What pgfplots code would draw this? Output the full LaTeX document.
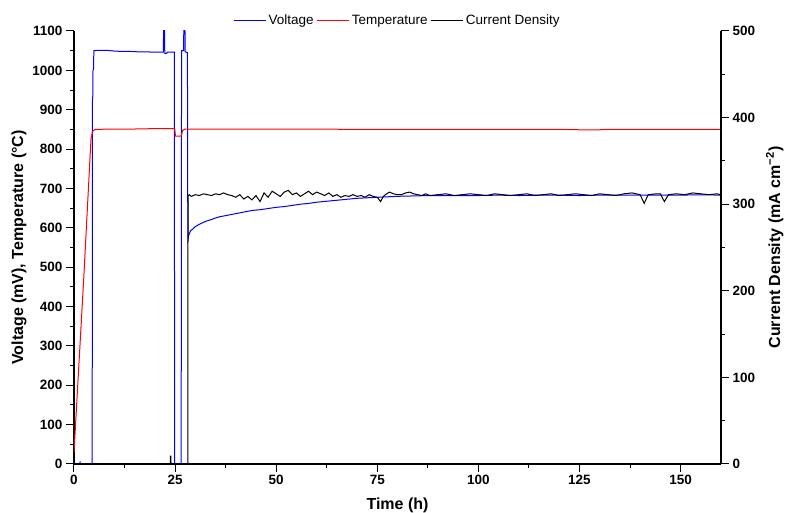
\documentclass[border=0pt]{standalone}
\usepackage{pgfplots}
\pgfplotsset{compat=1.18}
\usepackage{fontspec}
\setmainfont{Liberation Sans}
\begin{document}
\begin{tikzpicture}
\useasboundingbox (-74pt,-49pt) rectangle (711pt,464pt);
\pgfplotsset{
  every axis/.append style={
    scale only axis, width=647pt, height=433pt,
    xmin=0, xmax=160,
    tick align=outside,
    major tick length=8pt, minor tick length=4pt,
    every tick/.style={black, line width=1pt},
    axis line style={line width=1.2pt},
    tick label style={font=\fontsize{13.5}{15}\selectfont\bfseries},
    /pgf/number format/assume math mode=true,
    /pgf/number format/1000 sep={},
    label style={font=\fontsize{16}{18}\selectfont\bfseries},
  }
}
\begin{axis}[
  axis x line*=bottom, axis y line*=left,
  ymin=0, ymax=1100, ytick={0,100,...,1100}, minor y tick num=1,
  xtick={0,25,...,150}, minor x tick num=1,
  xlabel={Time (h)}, ylabel={Voltage (mV), Temperature (°C)},
  x label style={at={(axis description cs:0.5,-0.095)}, anchor=center},
  y label style={at={(axis description cs:-0.085,0.5)}, anchor=center},
  legend style={at={(0.5,1)}, anchor=south, yshift=1pt, draw=none, fill=none,
    legend columns=3, font=\fontsize{13.5}{15}\selectfont,
    /tikz/every even column/.append style={column sep=1pt}},
  legend image post style={xscale=1.9, line width=0.8pt},
]
\addplot[blue, line width=1pt] coordinates {
(0,0)(1.4,0)(1.5,4)(1.6,0)(4.5,0)(4.55,920)(4.65,935)(4.7,1000)(4.85,1005)(4.9,1050)
(6,1051)(8,1051)(10,1049)(12,1048)(14,1048)(16,1047)(18,1047)(20,1046)(22.1,1046)
(22.2,1150)(22.35,1150)(22.45,1043)(22.9,1043)(23.1,1046)(24.8,1046)(24.9,0)(26.5,0)
(26.6,1050)(27.1,1050)(27.2,1150)(27.4,1150)(27.5,1047)(28.05,1045)(28.15,570)
(28.4,582)(28.8,592)(29.5,598)(30,603)(31,609)(32,614)(33,618)(34,621)(35,625)(36,628)
(37,630)(38,632)(39,634)(40,636)(42,640)(44,644)(46,646)(48,649)(50,652)(52,654)
(54,657)(56,660)(58,662)(60,665)(62,667)(64,669)(66,671)(68,673)(70,675)(72,676)
(74,677)(76,678)(78,679)(80,680)(84,681)(88,682)(92,682)(96,682)(100,682)(105,683)
(110,682)(115,683)(120,683)(125,682)(130,683)(135,683)(140,683)(145,683)(150,683)
(155,684)(160,683)};
\addlegendentry{Voltage}
\addplot[red, line width=1pt] coordinates {
(0,30)(2.4,470)(4.2,825)(4.6,845)(5.2,850)(10,851)(15,851)(20,852)(24.9,852)(25.1,833)
(26.5,833)(26.9,848)(27.5,851)(30,851)(50,851)(75,850)(100,850)(120,850)(124,849.5)
(125,849)(130,849)(131,850)(160,850)};
\addlegendentry{Temperature}
\addlegendimage{black}
\addlegendentry{Current Density}
\end{axis}
\begin{axis}[
  axis x line=none, axis y line*=right,
  ymin=0, ymax=500, ytick={0,100,...,500}, minor y tick num=1,
  ylabel={Current Density (mA cm\textsuperscript{−2})},
  y label style={at={(axis description cs:1.083,0.5)}, anchor=center},
]
\addplot[black, line width=1pt] coordinates {
(0,0)(23.8,0)(23.85,9)(23.95,9)(24,0)(28.15,0)(28.2,310)(28.5,311)(29,309)(30,311)
(31,310)(32,312)(33,311)(34,310)(35,312)(36,311)(37,313)(38,311)(39,310)(40,308)
(41,311)(42,306)(43,309)(44,305)(45,310)(46,303)(47,313)(48,308)(49,315)(50,312)
(51,309)(52,314)(53,316)(54,311)(55,313)(56,309)(57,312)(58,315)(59,311)(60,314)
(61,312)(62,310)(63,313)(64,309)(65,311)(66,308)(67,310)(68,309)(69,311)(70,309)
(71,310)(72,308)(73,311)(74,309)(75,308)(75.8,303)(76.5,309)(77,311)(78,314)(79,312)
(80,311)(81,311)(82,313)(83,314)(84,312)(85,311)(86,310)(87,312)(88,310)(90,311)
(92,312)(94,310)(96,311)(98,312)(100,311)(102,310)(104,312)(106,311)(108,310)(110,311)
(112,312)(114,310)(116,311)(118,312)(120,310)(122,311)(124,312)(126,311)(128,310)
(130,312)(132,311)(134,310)(136,312)(138,313)(140,311)(141,301)(142,311)(144,312)
(145,312)(146,303)(147,311)(149,312)(151,311)(153,313)(155,312)(157,311)(159,312)(160,311)};
\end{axis}
\end{tikzpicture}
\end{document}
